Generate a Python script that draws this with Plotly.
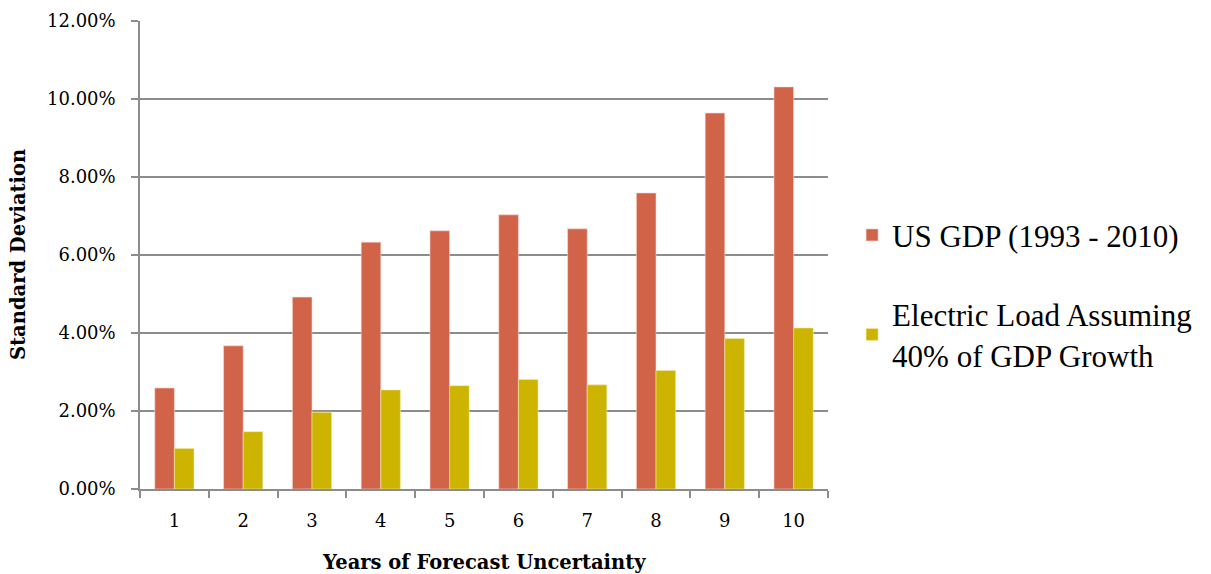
import plotly.graph_objects as go

years = ["1", "2", "3", "4", "5", "6", "7", "8", "9", "10"]
us_gdp = [2.59, 3.67, 4.92, 6.33, 6.62, 7.03, 6.67, 7.59, 9.64, 10.31]
electric_load = [1.04, 1.47, 1.97, 2.54, 2.65, 2.81, 2.67, 3.04, 3.86, 4.13]
y_ticks = [0, 2, 4, 6, 8, 10, 12]
y_tick_labels = ["0.00%", "2.00%", "4.00%", "6.00%", "8.00%", "10.00%", "12.00%"]

tick_font = "DejaVu Serif, serif"
legend_font = "Liberation Serif, serif"
grid = "#8c8c8c"

fig = go.Figure()
fig.add_trace(go.Bar(
    x=years, y=us_gdp, name="US GDP (1993 - 2010)",
    marker=dict(color="#D16349", line=dict(color="#f4d9d2", width=0.6)),
    legendgroup="a",
))
fig.add_trace(go.Bar(
    x=years, y=electric_load, name="Electric Load Assuming<br>40% of GDP Growth",
    marker=dict(color="#CCB400", line=dict(color="#f2eab0", width=0.6)),
    legendgroup="b",
))

fig.update_layout(
    width=1211, height=574,
    margin=dict(l=140, r=383, t=21, b=85),
    paper_bgcolor="white", plot_bgcolor="white",
    barmode="group", bargap=0.43, bargroupgap=0,
    font=dict(family=tick_font, color="black"),
    showlegend=True,
    legend=dict(
        x=1.035, y=0.415, xanchor="left", yanchor="middle",
        font=dict(size=31, family=legend_font),
        traceorder="grouped", tracegroupgap=36,
        itemwidth=30,
    ),
    xaxis=dict(
        showline=True, linecolor=grid, linewidth=1.5,
        ticks="outside", tickson="boundaries", ticklen=7, tickcolor=grid, tickwidth=1.5,
        tickfont=dict(size=18, family=tick_font),
        ticklabelstandoff=15,
        showgrid=False, automargin=False,
    ),
    yaxis=dict(
        range=[0, 12],
        tickvals=y_ticks, ticktext=y_tick_labels,
        showline=True, linecolor=grid, linewidth=1.5,
        ticks="outside", ticklen=7, tickcolor=grid, tickwidth=1.5,
        tickfont=dict(size=18, family=tick_font),
        ticklabelstandoff=12,
        showgrid=True, gridcolor=grid, gridwidth=1.5,
        zeroline=False, automargin=False,
    ),
    annotations=[
        dict(text="<b>Years of Forecast Uncertainty</b>", xref="paper", yref="paper",
             x=0.5, y=-73 / 468, xanchor="center", yanchor="middle", showarrow=False,
             font=dict(size=19.5, family=tick_font)),
        dict(text="<b>Standard Deviation</b>", xref="paper", yref="paper",
             x=-122 / 688, y=0.5, xanchor="center", yanchor="middle", showarrow=False,
             textangle=-90, font=dict(size=19.5, family=tick_font)),
    ],
)

fig.write_html("out.html")
